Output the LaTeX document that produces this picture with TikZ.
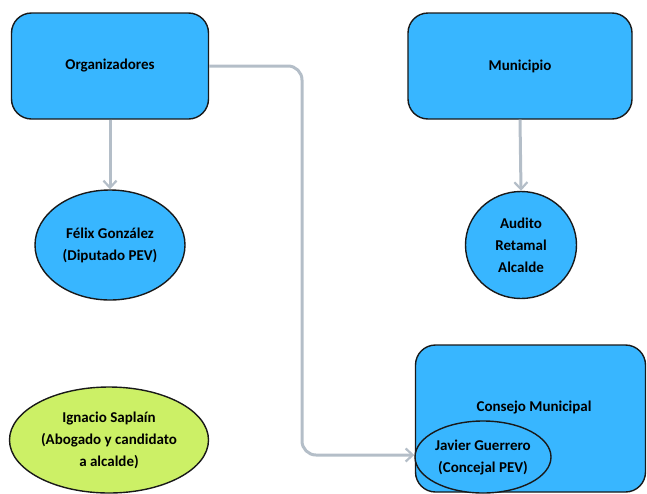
\documentclass[tikz,border=0pt]{standalone}
\usepackage{fontspec}
\setmainfont{Carlito}
\usetikzlibrary{shapes.geometric,arrows.meta}
\definecolor{boxblue}{RGB}{56,182,255}
\definecolor{lime}{RGB}{204,240,102}
\definecolor{conn}{RGB}{180,190,200}
\tikzset{
  rbox/.style={draw=black!90,line width=1.4pt,fill=boxblue,rounded corners=20pt,font=\bfseries\fontsize{15}{18}\selectfont,align=center},
  oval/.style={draw=black!90,line width=1.4pt,ellipse,font=\bfseries\fontsize{15}{22}\selectfont,align=center,inner sep=0pt},
  link/.style={draw=conn,line width=3pt,-{Straight Barb[length=7pt,width=13pt,line width=2.2pt]},rounded corners=14pt}
}
\begin{document}
\begin{tikzpicture}[x=1pt,y=-1pt]
\useasboundingbox (0,0) rectangle (647,493);
\node[rbox,minimum width=197pt,minimum height=106pt] (org) at (110,66) {Organizadores};
\node[rbox,minimum width=224pt,minimum height=106pt] (mun) at (520,66) {Municipio};
\node[oval,fill=boxblue,minimum width=150pt,minimum height=110pt] (felix) at (110,245) {Félix González\\(Diputado PEV)};
\node[oval,fill=boxblue,minimum width=111pt,minimum height=107pt] (audito) at (521,245) {Audito\\Retamal\\Alcalde};
\node[oval,fill=lime,minimum width=199pt,minimum height=106pt] (ignacio) at (109,440) {Ignacio Saplaín\\(Abogado y candidato\\a alcalde)};
\node[rbox,minimum width=230pt,minimum height=147pt] (consejo) at (530.5,418.5) {};
\node[font=\bfseries\fontsize{15}{18}\selectfont] (consejolbl) at (534,407) {Consejo Municipal};
\node[oval,fill=boxblue,minimum width=136pt,minimum height=72pt] (javier) at (483,457) {Javier Guerrero\\(Concejal PEV)};
\draw[link] (org.east |- 0,66) -- (302,66) -- (302,455) -- (javier.west |- 0,455);
\draw[link] (org.south) -- (felix.north);
\draw[link] (mun.south) -- (audito.north);
\end{tikzpicture}
\end{document}
